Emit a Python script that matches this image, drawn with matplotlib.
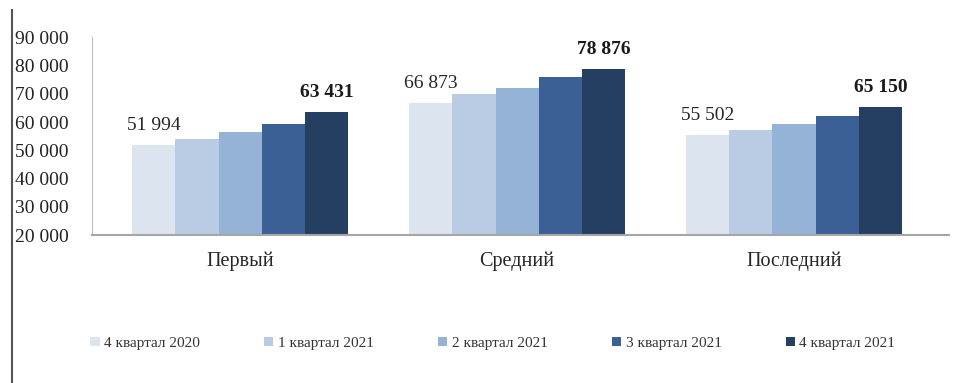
import numpy as np
import matplotlib.pyplot as plt
from matplotlib.lines import Line2D

plt.rcParams['font.family'] = ['Liberation Serif', 'DejaVu Serif']

# groups and quarterly values
groups = ['Первый', 'Средний', 'Последний']
quarters = ['4 квартал 2020', '1 квартал 2021', '2 квартал 2021',
            '3 квартал 2021', '4 квартал 2021']
q4_2020 = [51994, 66873, 55502]
q1_2021 = [53900, 70000, 57000]
q2_2021 = [56300, 71900, 59300]
q3_2021 = [59300, 75900, 62200]
q4_2021 = [63431, 78876, 65150]
series = [q4_2020, q1_2021, q2_2021, q3_2021, q4_2021]
colors = ['#dce4f0', '#b9cce4', '#95b3d7', '#3a6095', '#243f62']

fig = plt.figure(figsize=(9.74, 3.83), dpi=100)
ax = fig.add_axes([0.0945, 0.386, 0.88, 0.517])

x = np.arange(len(groups))
w = 0.156
for i, vals in enumerate(series):
    pos = x + (i - 2) * w
    ax.bar(pos, np.array(vals) - 20000, width=w, bottom=20000,
           color=colors[i], label=quarters[i], zorder=2)

# value labels on the first and last bar of each group
for j in range(len(groups)):
    v = q4_2020[j]
    ax.text(x[j] - 2 * w, v + 3900, f'{v:,}'.replace(',', ' '),
            ha='center', va='bottom', fontsize=14, color='#262626')
    v = q4_2021[j]
    ax.text(x[j] + 2 * w, v + 3900, f'{v:,}'.replace(',', ' '),
            ha='center', va='bottom', fontsize=14, fontweight='bold',
            color='#1a1a1a')

ax.set_ylim(20000, 90000)
ax.set_xlim(-0.535, 2.56)
ax.set_yticks(range(20000, 90001, 10000))
ax.set_yticklabels([f'{t:,}'.replace(',', ' ') for t in range(20000, 90001, 10000)])
ax.set_xticks(x)
ax.set_xticklabels(groups)
ax.tick_params(axis='y', length=0, pad=17, labelsize=14, labelcolor='#222222')
ax.tick_params(axis='x', length=0, pad=12, labelsize=14.5, labelcolor='#262626')

for s in ['top', 'right']:
    ax.spines[s].set_visible(False)
ax.spines['left'].set_color('#bfbfbf')
ax.spines['bottom'].set_color('#a6a6a6')
ax.spines['bottom'].set_linewidth(1.5)

fig.legend(loc='center', bbox_to_anchor=(0.506, 0.104), ncol=5, frameon=False,
           fontsize=11, handlelength=0.6, handleheight=0.6, handletextpad=0.3,
           columnspacing=4.2, labelcolor='#333333')

# frame line along the left edge
fig.add_artist(Line2D([0.0123, 0.0123], [0.0, 0.975], color='#555555', lw=1.5))

fig.savefig('out.png', dpi=100)
